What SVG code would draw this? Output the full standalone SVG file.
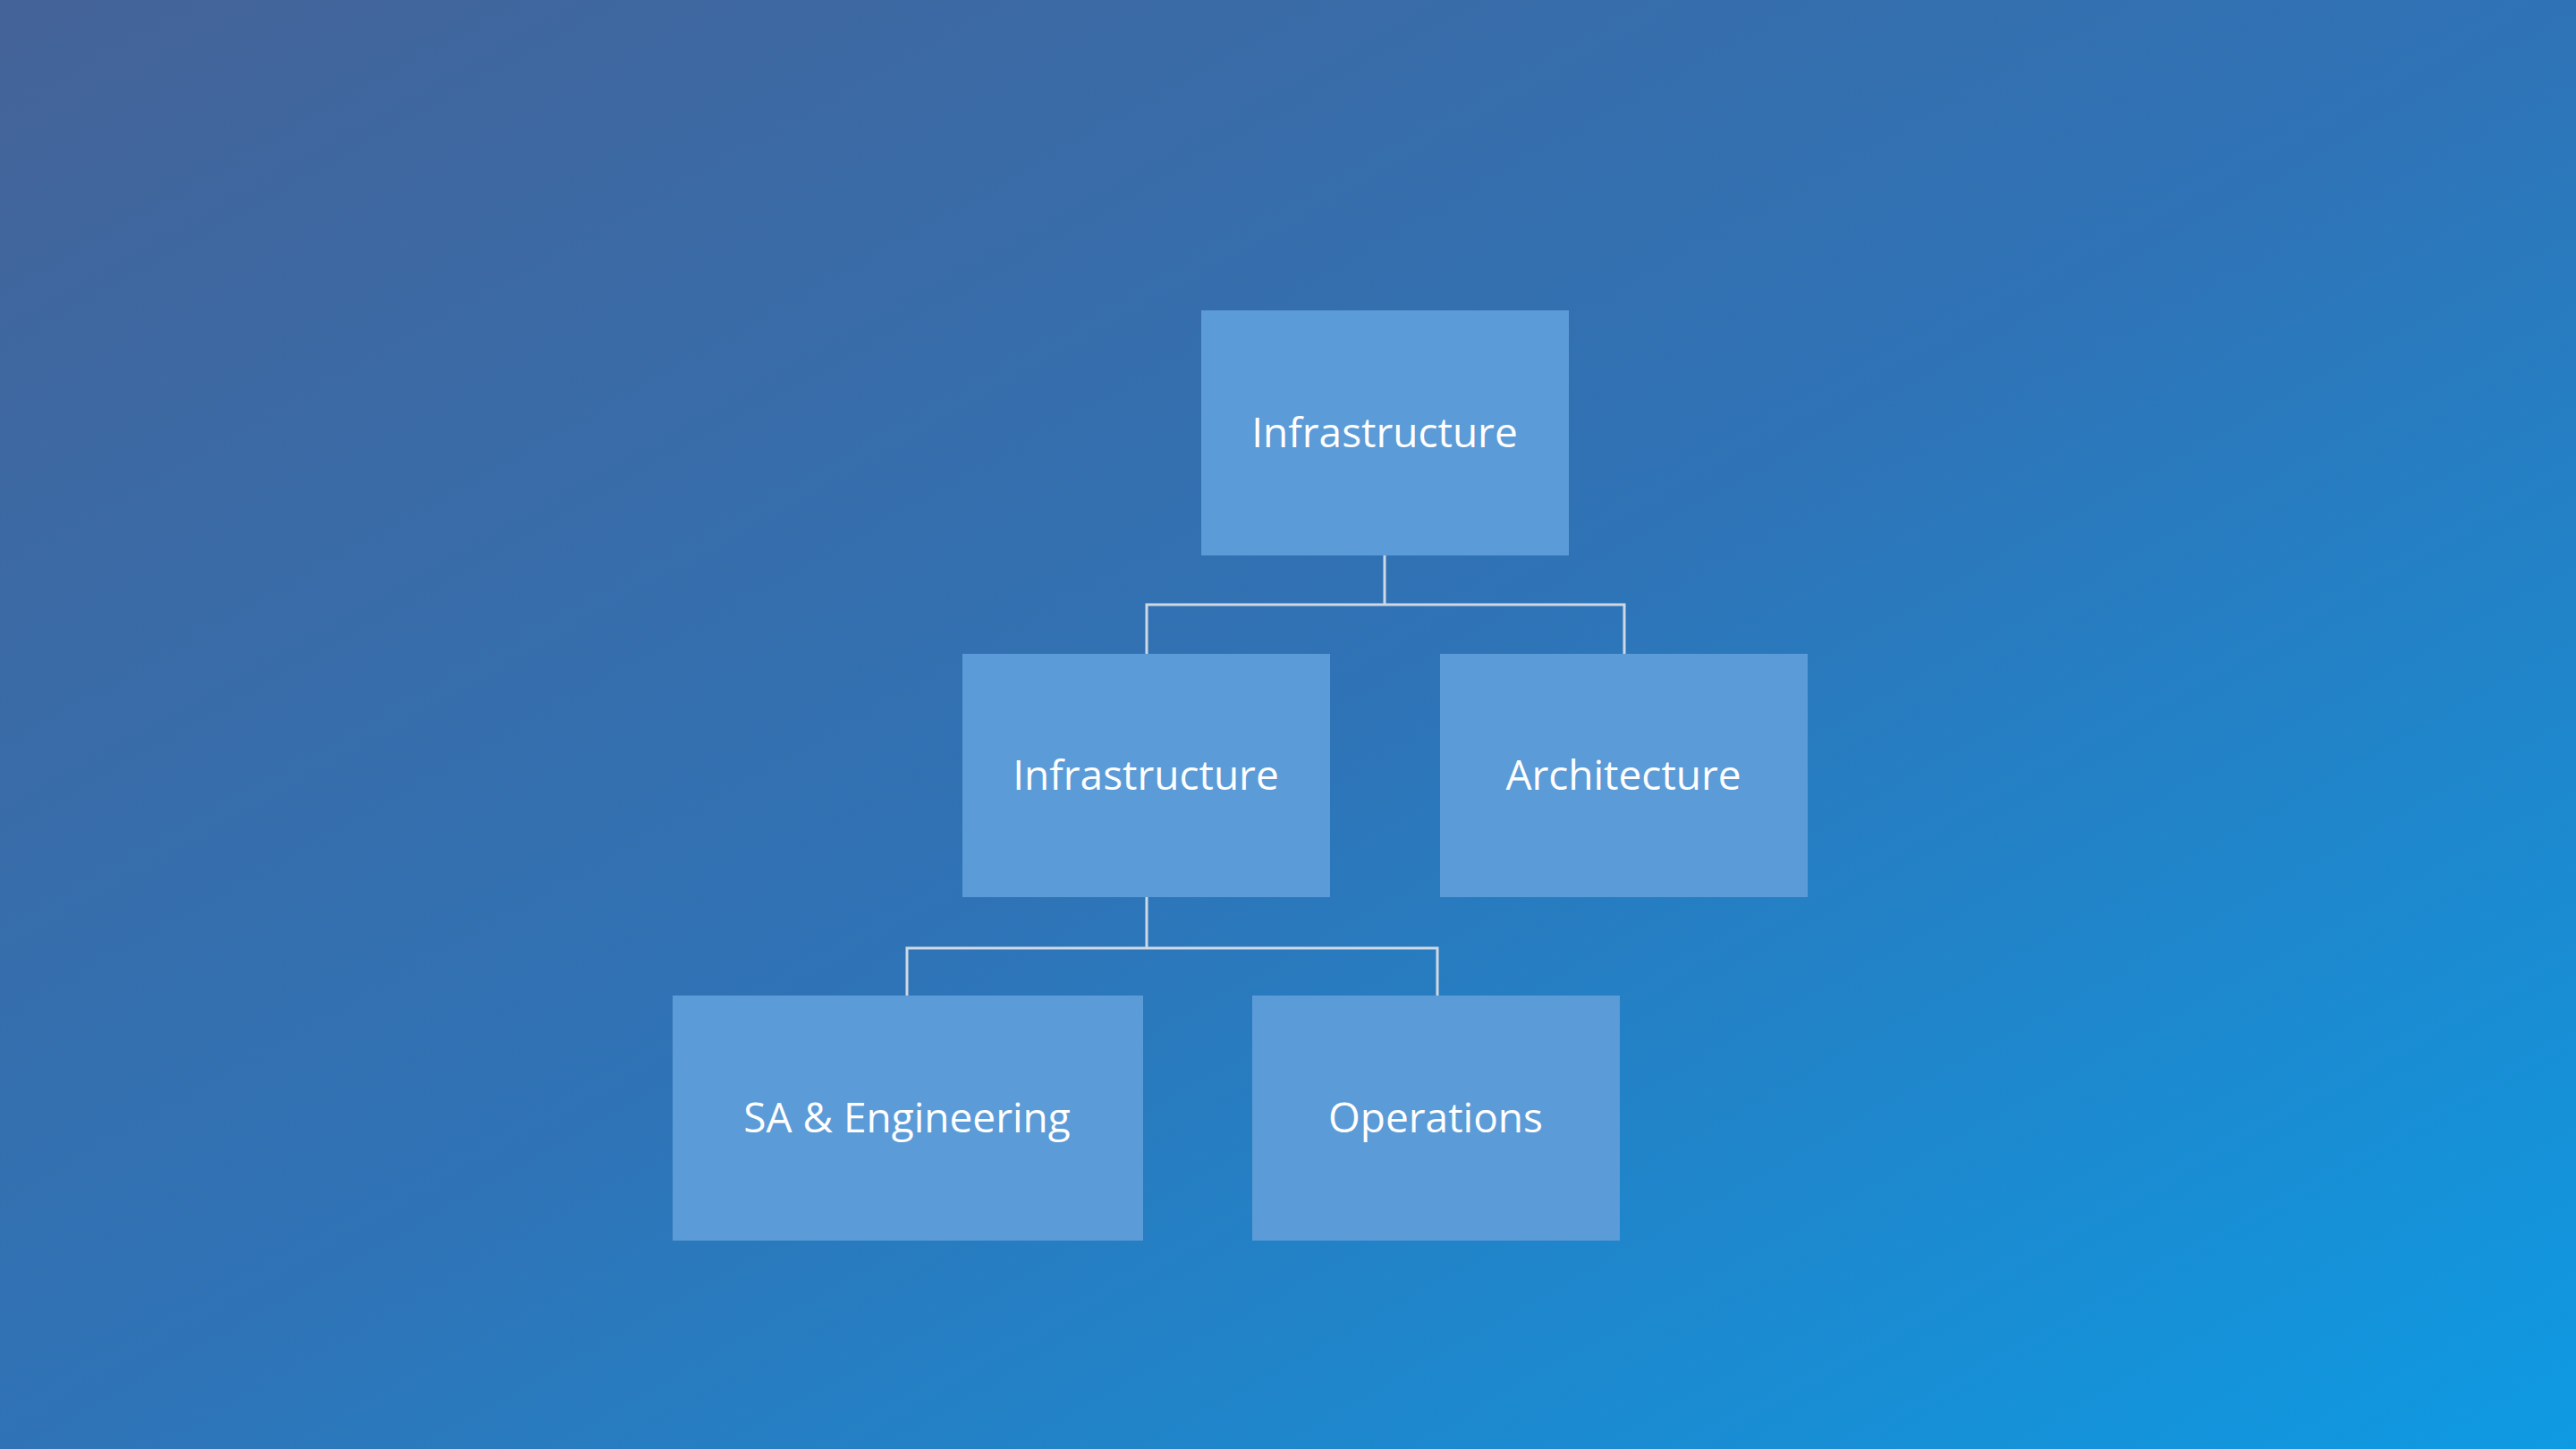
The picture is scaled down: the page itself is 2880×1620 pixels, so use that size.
<svg xmlns="http://www.w3.org/2000/svg" width="2880" height="1620" viewBox="0 0 2880 1620">
<defs>
<linearGradient id="bg" x1="0" y1="0" x2="1" y2="1">
<stop offset="0" stop-color="#446398"/>
<stop offset="0.5" stop-color="#2F73B6"/>
<stop offset="1" stop-color="#0E9AE2"/>
</linearGradient>
</defs>
<style>
.box{fill:#5B9BD7}
.lbl{font-family:"Open Sans","Liberation Sans",sans-serif;font-size:46px;fill:#FFFFFF;text-anchor:middle;dominant-baseline:central}
.conn{fill:none;stroke:#D0D8E4;stroke-width:3}
</style>
<rect width="2880" height="1620" fill="url(#bg)"/>
<g id="connectors">
<path class="conn" d="M1548 621 V676 M1282 732 V676 H1816 V732"/>
<path class="conn" d="M1282 1003 V1060 M1014 1114 V1060 H1607 V1114"/>
</g>
<g id="n-top"><rect class="box" x="1343" y="347" width="411" height="274"/><text class="lbl" x="1548" y="482">Infrastructure</text></g>
<g id="n-infra"><rect class="box" x="1076" y="731" width="411" height="272"/><text class="lbl" x="1281" y="865">Infrastructure</text></g>
<g id="n-arch"><rect class="box" x="1610" y="731" width="411" height="272"/><text class="lbl" x="1815" y="865">Architecture</text></g>
<g id="n-sa"><rect class="box" x="752" y="1113" width="526" height="274"/><text class="lbl" x="1014" y="1248">SA &amp; Engineering</text></g>
<g id="n-ops"><rect class="box" x="1400" y="1113" width="411" height="274"/><text class="lbl" x="1605" y="1248">Operations</text></g>
</svg>
